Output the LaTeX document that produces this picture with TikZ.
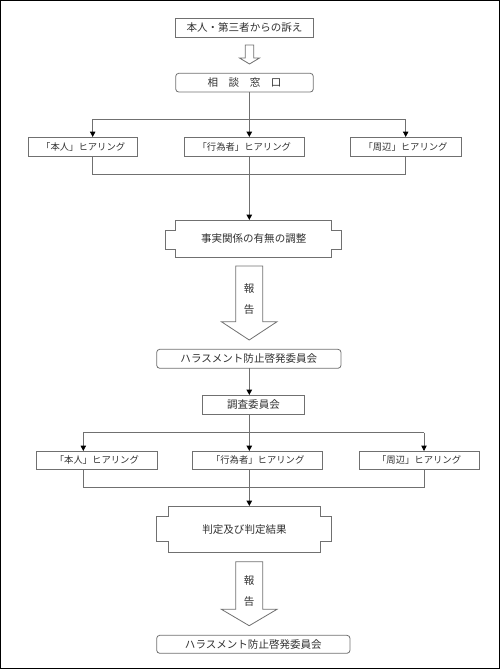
\documentclass[tikz,border=0pt]{standalone}
\usepackage{fontspec}
\setmainfont{Noto Sans CJK JP}
\usetikzlibrary{arrows.meta}
\definecolor{ln}{HTML}{707070}
\definecolor{tx}{HTML}{303030}
\newcommand\mybox[7]{\node[#6,minimum width={(#4-#2)*0.75pt},minimum height={(#5-#3)*0.75pt}] (#1) at ({(#2+#4)/2},{(#3+#5)/2}) {#7};}
% notched outline: x1 x2 inner, y1 y2, ny1 ny2 notch, ox1 ox2 outer
\newcommand\notchpath[8]{\draw[shapeline] (#1,#3) -- (#2,#3) -- (#2,#5) -- (#8,#5) -- (#8,#6) -- (#2,#6) -- (#2,#4) -- (#1,#4) -- (#1,#6) -- (#7,#6) -- (#7,#5) -- (#1,#5) -- cycle;}
% hollow arrow: cx, half shaft, half head, ytop, yhead, ytip
\newcommand\hollowarrow[6]{\draw[shapeline,fill=white] ({#1-#2},#4) -- ({#1+#2},#4) -- ({#1+#2},#5) -- ({#1+#3},#5) -- (#1,#6) -- ({#1-#3},#5) -- ({#1-#2},#5) -- cycle;}
\begin{document}
\begin{tikzpicture}[x=0.75pt,y=-0.75pt,
  box/.style={draw=ln,line width=0.6pt,rectangle,inner sep=0pt,outer sep=0pt,text=tx,font=\fontsize{7.9}{9}\selectfont},
  rbox/.style={box,rounded corners=2.3pt},
  hbox/.style={box,font=\fontsize{7}{8}\selectfont},
  plain/.style={box,draw=none},
  lbl/.style={inner sep=0pt,text=tx,font=\fontsize{7.9}{9}\selectfont},
  shapeline/.style={draw=ln,line width=0.6pt},
  conn/.style={draw=ln,line width=0.6pt},
  trunk/.style={draw=ln,line width=1pt},
  arr/.style={-{Triangle[width=4pt,length=4pt,color=black]}},
]
\useasboundingbox (0,0) rectangle (500,669);
\draw[black,line width=1pt] (0.7,0.7) rectangle (499.3,668.3);

% column of the trunk
\coordinate (c) at (249.3,0);

% top part
\mybox{A}{175.7}{18.3}{313.3}{37}{box}{本人・第三者からの訴え}
\hollowarrow{249.5}{4.3}{10}{45}{58}{64}
\mybox{B}{175.7}{73.3}{313.3}{92}{rbox}{相　談　窓　口}

\mybox{H1}{28.7}{137}{137.7}{156.3}{hbox}{「本人」ヒアリング}
\mybox{H2}{184.3}{137}{304.3}{156.3}{hbox}{「行為者」ヒアリング}
\mybox{H3}{350}{137}{461}{156.3}{hbox}{「周辺」ヒアリング}

\coordinate (l1) at (92.7,119.3);
\coordinate (r1) at (405.7,119.3);
\coordinate (l2) at (92.7,174.3);
\coordinate (r2) at (405.7,174.3);
\draw[conn] (l1) -- (r1);
\draw[conn,arr] (l1) -- (l1 |- H1.north);
\draw[conn,arr] (r1) -- (r1 |- H3.north);
\draw[trunk,arr] (B.south -| c) -- (H2.north -| c);
\draw[conn] (l2 |- H1.south) -- (l2) -- (r2) -- (r2 |- H3.south);

\mybox{C}{175.7}{220}{331.7}{257.7}{plain}{事実関係の有無の調整}
\notchpath{175.7}{331.7}{220}{257.7}{230.7}{249}{165.7}{341}
\draw[trunk,arr] (H2.south -| c) -- (C.north -| c);

\hollowarrow{249.2}{13.5}{27.8}{266}{321.7}{340}
\node[lbl] (R1) at (249.2,289) {報};
\node[lbl] (K1) at (249.2,310) {告};

\mybox{D}{156.7}{349.3}{341}{368.3}{rbox}{ハラスメント防止啓発委員会}
\mybox{E}{202.7}{395}{304.3}{414.3}{box}{調査委員会}
\draw[trunk,arr] (D.south -| c) -- (E.north -| c);

% bottom part
\mybox{H4}{36.7}{451}{157}{469.7}{hbox}{「本人」ヒアリング}
\mybox{H5}{192.7}{451}{322.7}{469.7}{hbox}{「行為者」ヒアリング}
\mybox{H6}{359}{451}{479.3}{469.7}{hbox}{「周辺」ヒアリング}

\coordinate (l3) at (83.3,432.7);
\coordinate (r3) at (424,432.7);
\coordinate (l4) at (83.3,487.7);
\coordinate (r4) at (424,487.7);
\draw[conn] (l3) -- (r3);
\draw[conn,arr] (l3) -- (l3 |- H4.north);
\draw[conn,arr] (r3) -- (r3 |- H6.north);
\draw[trunk,arr] (E.south -| c) -- (H5.north -| c);
\draw[conn] (l4 |- H4.south) -- (l4) -- (r4) -- (r4 |- H6.south);

\mybox{F}{168.3}{506}{320.7}{552.3}{plain}{判定及び判定結果}
\notchpath{168.3}{320.7}{506}{552.3}{516.7}{541}{156.7}{331.7}
\draw[trunk,arr] (H5.south -| c) -- (F.north -| c);

\hollowarrow{249.2}{13.5}{27.8}{561.7}{609.3}{625.7}
\node[lbl] (R2) at (249.2,581) {報};
\node[lbl] (K2) at (249.2,601.7) {告};

\mybox{G}{156.7}{635.3}{350}{653.3}{rbox}{ハラスメント防止啓発委員会}
\end{tikzpicture}
\end{document}
